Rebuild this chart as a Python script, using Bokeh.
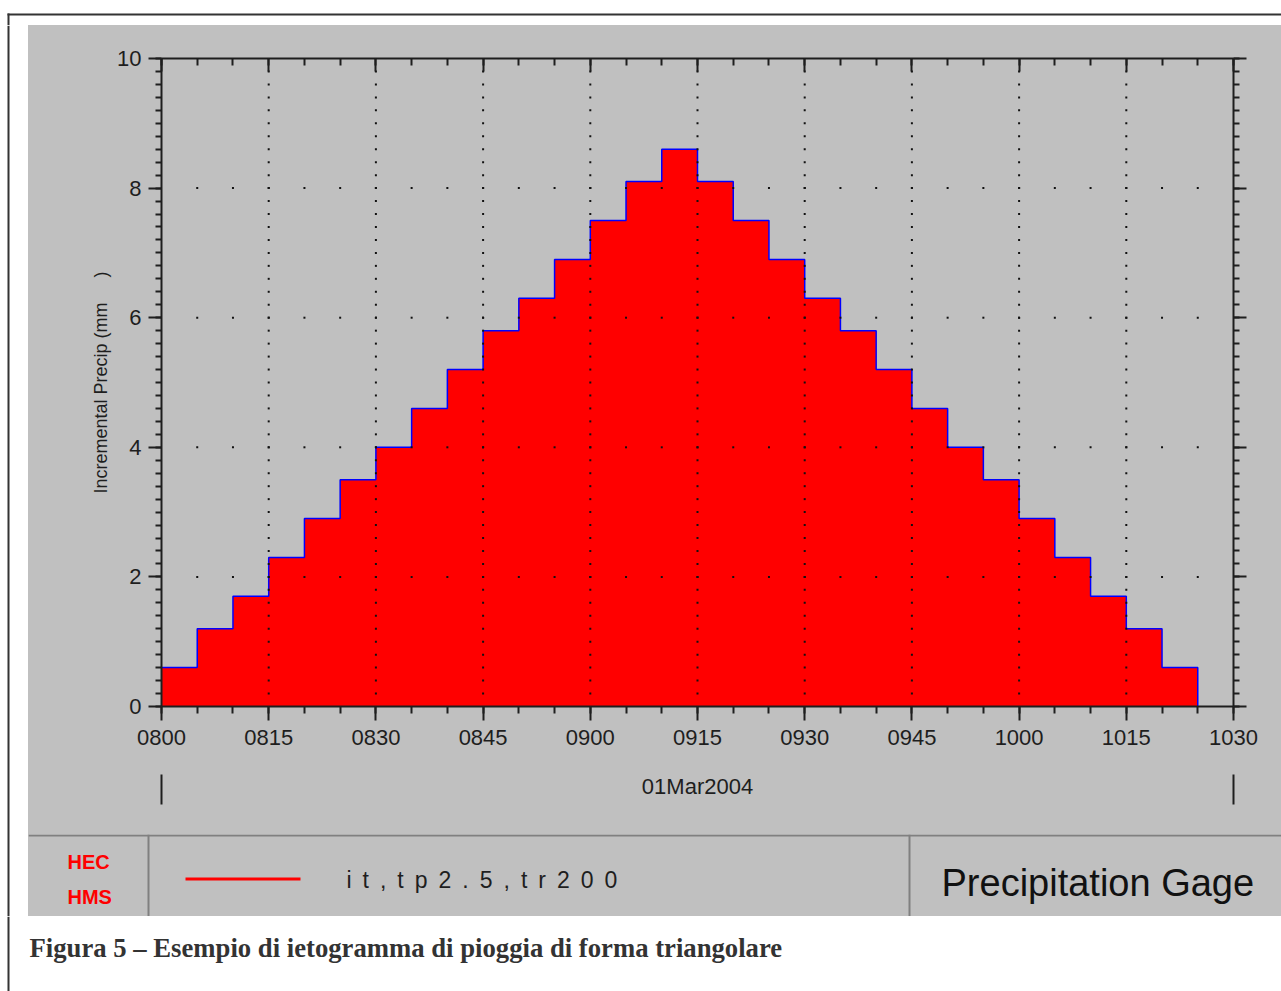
import numpy as np
from bokeh.plotting import figure
from bokeh.layouts import column, row
from bokeh.models import Range1d, LinearAxis, SingleIntervalTicker, CustomJSTickFormatter
from bokeh.core.properties import value
from bokeh.embed import file_html
from bokeh.resources import INLINE

# ---- data -------------------------------------------------------------
start_times = ["0800", "0805", "0810", "0815", "0820", "0825", "0830", "0835",
               "0840", "0845", "0850", "0855", "0900", "0905", "0910", "0915",
               "0920", "0925", "0930", "0935", "0940", "0945", "0950", "0955",
               "1000", "1005", "1010", "1015", "1020"]
precip_mm = [0.6, 1.2, 1.7, 2.3, 2.9, 3.5, 4.0, 4.6, 5.2, 5.8, 6.3, 6.9, 7.5, 8.1,
             8.6, 8.1, 7.5, 6.9, 6.3, 5.8, 5.2, 4.6, 4.0, 3.5, 2.9, 2.3, 1.7, 1.2, 0.6]
step_minutes = 5
x_tick_labels = ["0800", "0815", "0830", "0845", "0900", "0915",
                 "0930", "0945", "1000", "1015", "1030"]
y_tick_step = 2
y_max = 10
date_label = "01Mar2004"
series_name = "it,tp2.5,tr200"
gage_title = "Precipitation Gage"
logo_lines = ["HEC", "HMS"]
y_label = "Incremental Precip (mm\u00a0\u00a0\u00a0\u00a0\u00a0)"
caption = "Figura 5 \u2013 Esempio di ietogramma di pioggia di forma triangolare"


def minutes(hhmm):
    return (int(hhmm[:2]) - 8) * 60 + int(hhmm[2:])


x_start = minutes(start_times[0])
x_end = minutes(x_tick_labels[-1])
x_tick_step = minutes(x_tick_labels[1]) - minutes(x_tick_labels[0])

# step outline: each interval holds its value until the next start
xs = [minutes(t) for t in start_times] + [minutes(start_times[-1]) + step_minutes]
ys = precip_mm + [0.0]

# ---- page geometry (pixels) -------------------------------------------
W, H = 1281, 991
PANEL_L, PANEL_T, PANEL_B = 28, 25, 916     # gray panel
CHART_B, DATE_B = 760, 834                  # bottoms of chart and date rows
FL, FR, FT, FB = 161, 1233, 58, 706         # plot frame
GRAY = "#C0C0C0"
INK = "#1e1e1e"
BORDER = "#333333"
PW = W - PANEL_L


def deco_fig(w, h, x0, x1, y_top, y_bottom, fill):
    """A figure whose whole canvas is its frame, y growing downward."""
    return figure(width=w, height=h, x_range=Range1d(x0, x1),
                  y_range=Range1d(y_bottom, y_top), output_backend="svg",
                  toolbar_location=None, x_axis_type=None, y_axis_type=None,
                  min_border=0, outline_line_color=None, frame_align=False,
                  background_fill_color=fill, border_fill_color=fill)


# ---- chart ------------------------------------------------------------
p = figure(width=PW, height=CHART_B - PANEL_T,
           x_range=Range1d(x_start, x_end), y_range=Range1d(0, y_max),
           output_backend="svg", toolbar_location=None,
           x_axis_type=None, y_axis_type=None, frame_align=False,
           min_border_left=FL - PANEL_L, min_border_right=W - FR,
           min_border_top=FT - PANEL_T, min_border_bottom=CHART_B - FB,
           background_fill_color=GRAY, border_fill_color=GRAY,
           outline_line_color=None)


def style_axis(ax, tin, tout, mtin, mtout, label_size="22px"):
    ax.axis_line_color = INK
    ax.axis_line_width = 2
    ax.major_tick_line_color = INK
    ax.major_tick_line_width = 2
    ax.minor_tick_line_color = INK
    ax.minor_tick_line_width = 2
    ax.major_tick_in = tin
    ax.major_tick_out = tout
    ax.minor_tick_in = mtin
    ax.minor_tick_out = mtout
    ax.major_label_text_font = "Liberation Sans"
    ax.major_label_text_font_size = label_size
    ax.major_label_text_color = INK


def blank():
    return CustomJSTickFormatter(code="return ''")


xb = LinearAxis(ticker=SingleIntervalTicker(interval=x_tick_step, num_minor_ticks=3),
                formatter=CustomJSTickFormatter(
                    args=dict(labels=x_tick_labels, step=x_tick_step),
                    code="const i = Math.round(tick / step); return labels[i] ?? '';"))
style_axis(xb, 0, 14, 0, 7)
xb.major_label_standoff = 9

xt = LinearAxis(ticker=SingleIntervalTicker(interval=x_tick_step, num_minor_ticks=3),
                formatter=blank())
style_axis(xt, 13, 0, 7, 0, "2px")

yl = LinearAxis(ticker=SingleIntervalTicker(interval=y_tick_step, num_minor_ticks=10),
                axis_label=y_label)
style_axis(yl, 0, 13, 0, 6)
yl.major_label_standoff = 7
yl.axis_label_text_font = "Liberation Sans"
yl.axis_label_text_font_size = "18px"
yl.axis_label_text_font_style = "normal"
yl.axis_label_text_color = INK
yl.axis_label_standoff = 3

yr = LinearAxis(ticker=SingleIntervalTicker(interval=y_tick_step, num_minor_ticks=10),
                formatter=blank())
style_axis(yr, 0, 13, 0, 6, "2px")

p.add_layout(xb, "below")
p.add_layout(xt, "above")
p.add_layout(yl, "left")
p.add_layout(yr, "right")

p.varea_step(x=xs, y1=0, y2=ys, step_mode="after", fill_color="#FF0000")
p.step(x=xs, y=ys, mode="after", line_color="#0000FF", line_width=1.5)

# dotted grid: vertical lines at major time ticks, horizontal at major precip ticks
minor_y = np.round(np.arange(y_tick_step / 10, y_max, y_tick_step / 10), 3)
major_x = np.arange(x_start + x_tick_step, x_end, x_tick_step)
minor_x = np.arange(x_start + step_minutes, x_end, step_minutes)
major_y = np.arange(y_tick_step, y_max, y_tick_step)
gx = np.concatenate([np.repeat(major_x, len(minor_y)), np.tile(minor_x, len(major_y))])
gy = np.concatenate([np.tile(minor_y, len(major_x)), np.repeat(major_y, len(minor_x))])
p.scatter(gx, gy, marker="square", size=2, fill_color="#111111", line_color=None)

# ---- date row (same time scale as the chart) ---------------------------
kx = (FR - FL) / (x_end - x_start)
d = deco_fig(PW, DATE_B - CHART_B,
             x_start - (FL - PANEL_L) / kx, x_end + (W - FR) / kx,
             CHART_B, DATE_B, GRAY)
d.segment(x0=[x_start, x_end], y0=774, x1=[x_start, x_end], y1=804,
          line_color=INK, line_width=2)
d.text(x=[(x_start + x_end) / 2], y=[786], text=[date_label], text_align="center",
       text_baseline="alphabetic", text_font=value("Liberation Sans"),
       text_font_size="22px", text_color=INK)

# ---- legend strip -----------------------------------------------------
lg = deco_fig(PW, PANEL_B - DATE_B, PANEL_L, W, DATE_B, PANEL_B, GRAY)
SEP = "#808080"
lg.quad(left=PANEL_L, right=W, top=DATE_B, bottom=DATE_B + 2,
        fill_color=SEP, line_color=None)
lg.quad(left=[147, 908], right=[149, 910], top=DATE_B, bottom=PANEL_B,
        fill_color=SEP, line_color=None)
lg.text(x=[67, 67], y=[861, 896], text=logo_lines, text_baseline="alphabetic",
        text_font=value("Liberation Sans"),
        text_font_style="bold", text_font_size="20px", text_color="#FF0000")
lg.segment(x0=[185], y0=[878.5], x1=[300], y1=[878.5], line_color="#FF0000", line_width=3)
lg.text(x=[346], y=[879], text=[" \u2009".join(series_name)], text_baseline="alphabetic",
        text_font=value("Liberation Sans"), text_font_size="23px", text_color=INK)
lg.text(x=[941], y=[882], text=[gage_title], text_baseline="alphabetic",
        text_font=value("Liberation Sans"), text_font_size="38px", text_color="#111111")

# ---- white page margins with the outer frame lines ----------------------
top = deco_fig(W, PANEL_T, 0, W, 0, PANEL_T, "white")
top.quad(left=[7, 7], right=[W, 9], top=[13, 13], bottom=[15, PANEL_T],
         fill_color=BORDER, line_color=None)

left = deco_fig(PANEL_L, PANEL_B - PANEL_T, 0, PANEL_L, PANEL_T, PANEL_B, "white")
left.quad(left=7, right=9, top=PANEL_T, bottom=PANEL_B, fill_color=BORDER, line_color=None)

cap = deco_fig(W, H - PANEL_B, 0, W, PANEL_B, H, "white")
cap.quad(left=7, right=9, top=PANEL_B, bottom=H, fill_color=BORDER, line_color=None)
cap.text(x=[29], y=[947], text=[caption], text_baseline="alphabetic",
         text_font=value("Liberation Serif"), text_font_style="bold",
         text_font_size="26.7px", text_color="#333333")

panel = column(p, d, lg, styles={"background-color": GRAY})
page = column(top, row(left, panel), cap, styles={"background-color": "white"})

open("out.html", "w").write(file_html(page, INLINE))
